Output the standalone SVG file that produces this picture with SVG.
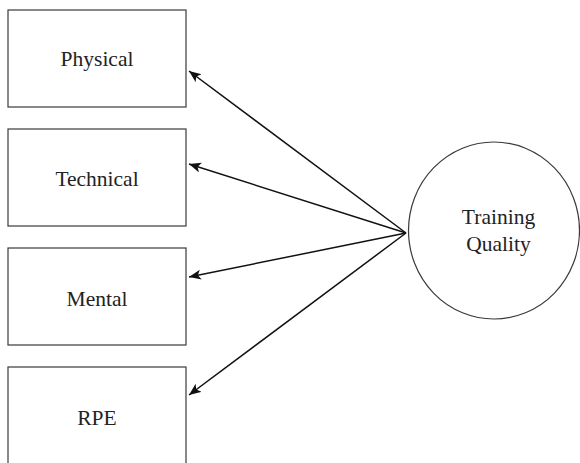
<svg xmlns="http://www.w3.org/2000/svg" width="580" height="463" viewBox="0 0 580 463">
<style>
.box{fill:#fff;stroke:#3a3a3a;stroke-width:1.2}
.lbl{font-family:"Liberation Serif","Times New Roman",serif;font-size:21.5px;fill:#222;text-anchor:middle}
.edge{stroke:#111;stroke-width:1.5;fill:none;marker-end:url(#arr)}
</style>
<defs>
<marker id="arr" markerUnits="userSpaceOnUse" markerWidth="14" markerHeight="12" refX="12" refY="5" orient="auto">
<path d="M0,0 L12,5 L0,10 L3,5 Z" fill="#111"/>
</marker>
</defs>
<rect width="580" height="463" fill="#fff"/>
<g id="connectors">
<line class="edge" x1="406" y1="233" x2="189" y2="71"/>
<line class="edge" x1="406" y1="233" x2="189" y2="164"/>
<line class="edge" x1="406" y1="233" x2="189" y2="277"/>
<line class="edge" x1="406" y1="233" x2="189" y2="395"/>
</g>
<g id="physical">
<rect class="box" x="8" y="10" width="178" height="97"/>
<text class="lbl" x="97" y="66">Physical</text>
</g>
<g id="technical">
<rect class="box" x="8" y="129" width="178" height="97"/>
<text class="lbl" x="97" y="186">Technical</text>
</g>
<g id="mental">
<rect class="box" x="8" y="248" width="178" height="97"/>
<text class="lbl" x="97" y="306">Mental</text>
</g>
<g id="rpe">
<rect class="box" x="8" y="367" width="178" height="97"/>
<text class="lbl" x="97" y="425">RPE</text>
</g>
<g id="training-quality">
<ellipse class="box" cx="494" cy="230.5" rx="85.5" ry="88.5"/>
<text class="lbl" x="498.5" y="224">Training</text>
<text class="lbl" x="498.5" y="251">Quality</text>
</g>
</svg>
